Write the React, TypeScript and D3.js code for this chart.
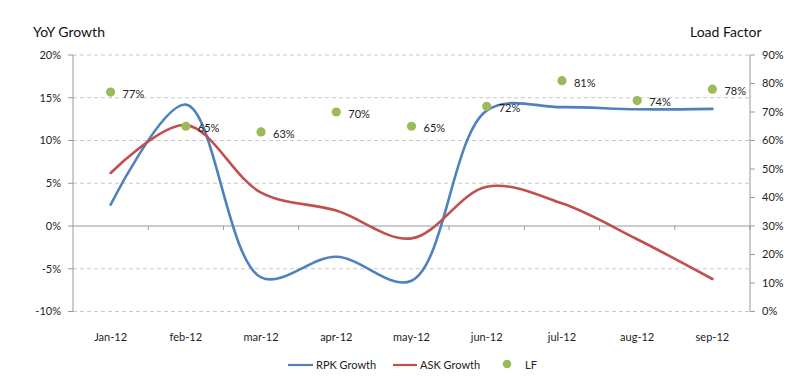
import React from "react";
import * as d3 from "d3";

const categories = ["Jan-12", "feb-12", "mar-12", "apr-12", "may-12", "jun-12", "jul-12", "aug-12", "sep-12"];
const rpkGrowth = [2.5, 14.2, -6.0, -3.6, -6.4, 13.5, 13.9, 13.65, 13.7];
const askGrowth = [6.2, 11.8, 3.9, 1.8, -1.45, 4.6, 2.65, -1.55, -6.2];
const loadFactor = [77, 65, 63, 70, 65, 72, 81, 74, 78];
const leftTicks = [-10, -5, 0, 5, 10, 15, 20];
const rightTicks = [0, 10, 20, 30, 40, 50, 60, 70, 80, 90];

const BLUE = "#4F81BD";
const RED = "#C0504D";
const GREEN = "#9BBB59";
const FONT = "Lato, 'Open Sans', sans-serif";

export default function App() {
  const W = 800, H = 381;
  const left = 73, right = 750, top = 55, bottom = 311.5;
  const x = d3.scaleBand<string>().domain(categories).range([left, right]).padding(0);
  const cx = (c: string) => (x(c) as number) + x.bandwidth() / 2;
  const yL = d3.scaleLinear().domain([-10, 20]).range([bottom, top]);
  const yR = d3.scaleLinear().domain([0, 90]).range([bottom, top]);
  const line = d3
    .line<number>()
    .x((_, i) => cx(categories[i]))
    .y((d) => yL(d))
    .curve(d3.curveCatmullRom.alpha(0.5));

  const boundaries = categories.map((c) => x(c) as number).slice(1).concat([right]);

  return (
    <div style={{ margin: -8 }}>
      <svg width={W} height={H} style={{ display: "block", background: "#fff" }} fontFamily={FONT}>
        {/* gridlines */}
        {leftTicks.filter((t) => t !== 0).map((t) => (
          <line key={"g" + t} x1={left} x2={right} y1={yL(t)} y2={yL(t)} stroke="#c8c8c8" strokeDasharray="4,3" strokeWidth={1} />
        ))}
        {/* zero line */}
        <line x1={left} x2={right} y1={yL(0)} y2={yL(0)} stroke="#999" strokeWidth={1} />
        {boundaries.map((b, i) => (
          <line key={"xt" + i} x1={b} x2={b} y1={yL(0)} y2={yL(0) + 4} stroke="#999" />
        ))}
        {/* left axis */}
        <line x1={left} x2={left} y1={top} y2={bottom} stroke="#999" />
        {leftTicks.map((t) => (
          <g key={"lt" + t}>
            <line x1={left - 5} x2={left} y1={yL(t)} y2={yL(t)} stroke="#999" />
            <text x={61} y={yL(t)} dy="0.35em" textAnchor="end" fontSize={11} fill="#222">{t}%</text>
          </g>
        ))}
        {/* right axis */}
        <line x1={right} x2={right} y1={top} y2={bottom} stroke="#999" />
        {rightTicks.map((t) => (
          <g key={"rt" + t}>
            <line x1={right} x2={right + 5} y1={yR(t)} y2={yR(t)} stroke="#999" />
            <text x={762} y={yR(t)} dy="0.35em" textAnchor="start" fontSize={11} fill="#222">{t}%</text>
          </g>
        ))}
        {/* titles */}
        <text x={33} y={37} fontSize={14} fill="#111">YoY Growth</text>
        <text x={690} y={37} fontSize={14} fill="#111">Load Factor</text>
        {/* x labels */}
        {categories.map((c) => (
          <text key={"xl" + c} x={cx(c)} y={337} dy="0.35em" textAnchor="middle" fontSize={11} fill="#222">{c}</text>
        ))}
        {/* lines */}
        <path d={line(rpkGrowth) || ""} fill="none" stroke={BLUE} strokeWidth={2.6} strokeLinecap="round" />
        <path d={line(askGrowth) || ""} fill="none" stroke={RED} strokeWidth={2.6} strokeLinecap="round" />
        {/* LF points */}
        {loadFactor.map((v, i) => (
          <g key={"lf" + i}>
            <circle cx={cx(categories[i])} cy={yR(v)} r={4.6} fill={GREEN} />
            <text x={cx(categories[i]) + 12} y={yR(v) + 2} dy="0.35em" fontSize={11} fill="#222">{v}%</text>
          </g>
        ))}
        {/* legend */}
        <line x1={288} x2={313} y1={365} y2={365} stroke={BLUE} strokeWidth={2.2} />
        <text x={316} y={365} dy="0.35em" fontSize={11} fill="#222">RPK Growth</text>
        <line x1={393} x2={417} y1={365} y2={365} stroke={RED} strokeWidth={2.2} />
        <text x={420} y={365} dy="0.35em" fontSize={11} fill="#222">ASK Growth</text>
        <circle cx={507} cy={364} r={4.3} fill={GREEN} />
        <text x={525} y={365} dy="0.35em" fontSize={11} fill="#222">LF</text>
      </svg>
    </div>
  );
}
